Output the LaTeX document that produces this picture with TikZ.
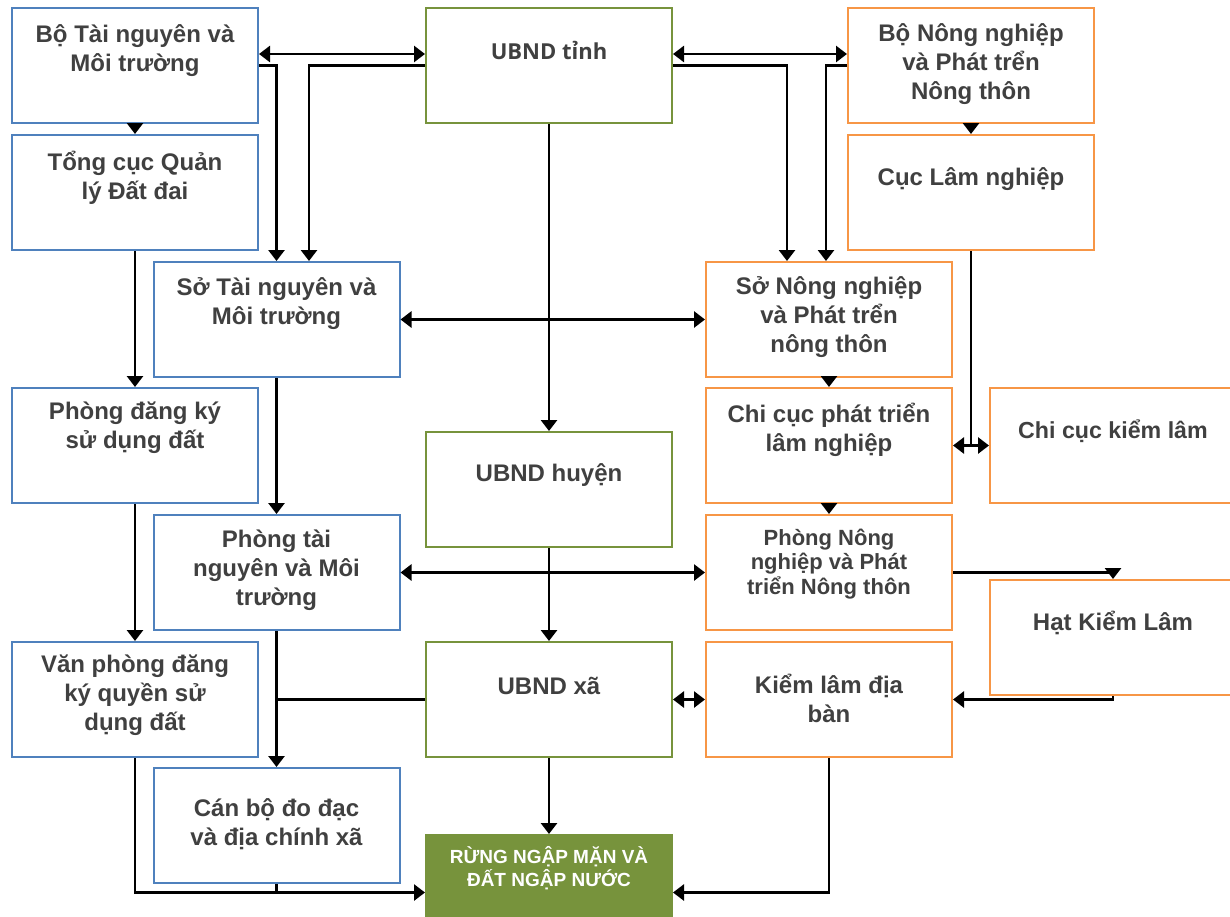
\documentclass[tikz,border=0pt]{standalone}
\usepackage{fontspec}
\setmainfont{Liberation Sans}
\newfontfamily\opensans{Open Sans}
\usetikzlibrary{arrows.meta}
\definecolor{tnblue}{HTML}{4F81BD}
\definecolor{ubgreen}{HTML}{77933C}
\definecolor{nnorange}{HTML}{F79646}
\definecolor{txtgray}{HTML}{404040}
\tikzset{
  box/.style={draw,line width=1pt,fill=white,minimum width=123pt,minimum height=57.5pt,inner sep=0pt},
  tnbox/.style={box,draw=tnblue},
  ubbox/.style={box,draw=ubgreen},
  nnbox/.style={box,draw=nnorange},
  txt/.style={font=\bfseries\fontsize{12}{14.5}\selectfont,text=txtgray,align=center,inner sep=0pt},
  link/.style={line width=1.4pt},
  arr/.style={link,-{Triangle[width=8pt,length=5.5pt]}},
  dbl/.style={link,{Triangle[width=8pt,length=5.5pt]}-{Triangle[width=8pt,length=5.5pt]}}
}
\begin{document}
\begin{tikzpicture}[x=0.5pt,y=-0.5pt]
\useasboundingbox (0,0) rectangle (1230,916);
% Tai nguyen va Moi truong
\node[tnbox,label={[txt,yshift=7.25pt]center:{Bộ Tài nguyên và\\Môi trường}}] (botn) at (135,65.5) {};
\node[tnbox,label={[txt,yshift=7.5pt]center:{Tổng cục Quản\\lý Đất đai}}] (tongcuc) at (135,192.5) {};
\node[tnbox,label={[txt,yshift=9pt]center:{Phòng đăng ký\\sử dụng đất}}] (phongdk) at (135,445.5) {};
\node[tnbox,label={[txt,yshift=2.25pt]center:{Văn phòng đăng\\ký quyền sử\\dụng đất}}] (vanphong) at (135,699.5) {};
\node[tnbox,label={[txt,yshift=8pt]center:{Sở Tài nguyên và\\Môi trường}}] (sotn) at (276.5,319.5) {};
\node[tnbox,label={[txt,yshift=1.25pt]center:{Phòng tài\\nguyên và Môi\\trường}}] (phongtn) at (276.5,572.5) {};
\node[tnbox,label={[txt,yshift=0.5pt]center:{Cán bộ đo đạc\\và địa chính xã}}] (canbo) at (276.5,825.5) {};
% UBND
\node[ubbox,label={[txt,yshift=7.5pt,font=\opensans\bfseries\fontsize{11}{13}\selectfont]center:{UBND tỉnh}}] (tinh) at (549,65.5) {};
\node[ubbox,label={[txt,yshift=7.25pt]center:{UBND huyện}}] (huyen) at (549,489.5) {};
\node[ubbox,label={[txt,yshift=7pt]center:{UBND xã}}] (xa) at (549,699.5) {};
\node[box,draw=ubgreen,fill=ubgreen,label={[txt,yshift=12pt,text=white,font=\bfseries\fontsize{9.5}{11.5}\selectfont]center:{RỪNG NGẬP MẶN VÀ\\ĐẤT NGẬP NƯỚC}}] (rung) at (549,892.5) {};
% Nong nghiep va Phat trien nong thon
\node[nnbox,label={[txt,yshift=0.5pt]center:{Bộ Nông nghiệp\\và Phát trển\\Nông thôn}}] (bonn) at (971,65.5) {};
\node[nnbox,label={[txt,yshift=6.75pt]center:{Cục Lâm nghiệp}}] (cucln) at (971,192.5) {};
\node[nnbox,label={[txt,yshift=1.25pt]center:{Sở Nông nghiệp\\và Phát trển\\nông thôn}}] (sonn) at (829,319.5) {};
\node[nnbox,label={[txt,yshift=8pt]center:{Chi cục phát triển\\lâm nghiệp}}] (chicucpt) at (829,445.5) {};
\node[nnbox,label={[txt,yshift=4.25pt,font=\bfseries\fontsize{11}{12.3}\selectfont]center:{Phòng Nông\\nghiệp và Phát\\triển Nông thôn}}] (phongnn) at (829,572.5) {};
\node[nnbox,label={[txt,yshift=0.5pt]center:{Kiểm lâm địa\\bàn}}] (kiemlamdb) at (829,699.5) {};
\node[nnbox,label={[txt,yshift=7pt,font=\bfseries\fontsize{11.6}{14}\selectfont]center:{Chi cục kiểm lâm}}] (chicuckl) at (1113,445.5) {};
\node[nnbox,label={[txt,yshift=7.5pt]center:{Hạt Kiểm Lâm}}] (hatkl) at (1113,637.5) {};
% connectors
\draw[dbl] (botn.east |- 0,54) -- (tinh.west |- 0,54);
\draw[dbl] (tinh.east |- 0,54) -- (bonn.west |- 0,54);
\draw[arr] (botn.east) -| (sotn.north);
\draw[arr] (tinh.west) -| (309,0 |- sotn.north);
\draw[arr] (tinh.east) -| (787,0 |- sonn.north);
\draw[arr] (bonn.west) -| (826,0 |- sonn.north);
\draw[arr] (botn) -- (tongcuc);
\draw[arr] (tongcuc) -- (phongdk);
\draw[arr] (phongdk) -- (vanphong);
\draw[arr] (vanphong.south) |- (rung.west);
\draw[arr] (sotn) -- (phongtn);
\draw[arr] (phongtn) -- (canbo);
\draw[link] (canbo.south) -- (canbo.south |- rung.west);
\draw[link] (xa.west) -- (phongtn.south |- xa.west);
\draw[dbl] (sotn) -- (sonn);
\draw[dbl] (phongtn) -- (phongnn);
\draw[arr] (tinh) -- (huyen);
\draw[arr] (huyen) -- (xa);
\draw[arr] (xa) -- (rung);
\draw[dbl] (xa) -- (kiemlamdb);
\draw[arr] (bonn) -- (cucln);
\draw[arr] (sonn) -- (chicucpt);
\draw[arr] (chicucpt) -- (phongnn);
\draw[link] (cucln.south) -- (cucln.south |- chicucpt.east);
\draw[dbl] (chicucpt) -- (chicuckl);
\draw[arr] (phongnn.east) -| (hatkl.north);
\draw[arr] (hatkl.south) |- (kiemlamdb.east);
\draw[arr] (kiemlamdb.south) |- (rung.east);
\end{tikzpicture}
\end{document}
